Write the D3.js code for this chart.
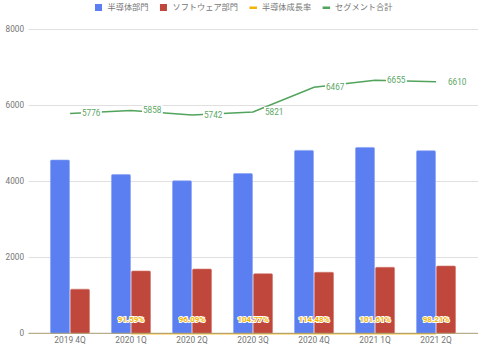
<!DOCTYPE html>
<html><head><meta charset="utf-8">
<script src="https://cdn.jsdelivr.net/npm/d3@7"></script>
<style>body{margin:0;background:#fff}svg{display:block}</style>
</head><body>
<svg id="c" width="480" height="348"></svg>
<script>
const categories = ["2019 4Q","2020 1Q","2020 2Q","2020 3Q","2020 4Q","2021 1Q","2021 2Q"];
const semiconductor = [4556, 4173, 4010, 4201, 4809, 4887, 4800];
const software = [1160, 1638, 1690, 1567, 1604, 1735, 1769];
const growthRate = [null, 91.59, 96.09, 104.77, 114.48, 101.61, 98.21];
const segmentTotal = [5776, 5858, 5742, 5821, 6467, 6655, 6610];
const yTicks = [0, 2000, 4000, 6000, 8000];
const legendLabels = ["半導体部門","ソフトウェア部門","半導体成長率","セグメント合計"];
const colors = ["#5b7ff0","#c0473b","#f4b400","#52a35c"];

const svg = d3.select("#c");
const font = "Roboto, 'Noto Sans CJK JP', sans-serif";
const L = 28.5, R = 478, T = 29, B = 333.3;

const y = d3.scaleLinear().domain([0, 8000]).range([B, T]);
const x = d3.scaleBand().domain(categories).range([28.5, 477.5]).paddingInner(0.36).paddingOuter(0.36);
const xs = d3.scaleBand().domain([0,1]).range([0, x.bandwidth()]).paddingInner(0.05);

// gridlines
svg.append("g").selectAll("line").data(yTicks.filter(d=>d>0)).join("line")
  .attr("x1", L).attr("x2", R).attr("y1", d=>Math.round(y(d))+0.5).attr("y2", d=>Math.round(y(d))+0.5)
  .attr("stroke", "#e0e0e0").attr("stroke-width", 1);

// y axis labels
const ya = svg.append("g").attr("transform", `translate(24,0)`)
  .call(d3.axisLeft(y).tickValues(yTicks).tickSize(0).tickPadding(0).tickFormat(d3.format("d")));
ya.select(".domain").remove();
ya.selectAll("text").attr("font-family", font).attr("font-size", 8.2).attr("fill", "#757575");

// x axis labels
const xa = svg.append("g").attr("transform", `translate(0,${B})`)
  .call(d3.axisBottom(x).tickSize(0).tickPadding(4));
xa.select(".domain").remove();
xa.selectAll("text").attr("font-family", font).attr("font-size", 8.4).attr("fill", "#757575");

// bars
const groups = svg.append("g").selectAll("g").data(categories).join("g")
  .attr("transform", d=>`translate(${x(d)},0)`);
groups.append("rect")
  .attr("x", xs(0)).attr("width", xs.bandwidth())
  .attr("y", (d,i)=>y(semiconductor[i])).attr("height", (d,i)=>B - y(semiconductor[i]))
  .attr("fill", colors[0]).attr("stroke", "#8aa3f5").attr("stroke-width", 0.6).attr("rx", 1.2);
groups.append("rect")
  .attr("x", xs(1)).attr("width", xs.bandwidth())
  .attr("y", (d,i)=>y(software[i])).attr("height", (d,i)=>B - y(software[i]))
  .attr("fill", colors[1]).attr("stroke", "#d27a70").attr("stroke-width", 0.6).attr("rx", 1.2);

const cx = d => x(d) + x.bandwidth()/2;

// growth rate line (plotted as ratio on the same axis)
const growthPts = categories.map((c,i)=>({c, v: growthRate[i]})).filter(p=>p.v!=null);
svg.append("path").datum(growthPts)
  .attr("d", d3.line().x(p=>cx(p.c)).y(p=>y(p.v/100)+0.5))
  .attr("fill","none").attr("stroke", colors[2]).attr("stroke-width", 1.3).attr("opacity", 0.8);

// baseline
svg.append("line").attr("x1", L).attr("x2", R).attr("y1", B).attr("y2", B)
  .attr("stroke", "#a89a70").attr("stroke-width", 1);

// growth labels
svg.append("g").selectAll("text").data(growthPts).join("text")
  .attr("x", p=>cx(p.c)).attr("y", 319).attr("dy", "0.35em")
  .attr("text-anchor","middle").attr("font-family", font).attr("font-size", 8).attr("font-weight", "bold")
  .attr("fill", colors[2]).attr("stroke", "#fff").attr("stroke-width", 2).attr("paint-order","stroke")
  .text(p=>p.v.toFixed(2)+"%");

// segment total line
const segPts = categories.map((c,i)=>({c, v: segmentTotal[i]}));
svg.append("path").datum(segPts)
  .attr("d", d3.line().x(p=>cx(p.c)).y(p=>y(p.v)))
  .attr("fill","none").attr("stroke", colors[3]).attr("stroke-width", 1.5);

const segLab = svg.append("g").selectAll("g").data(segPts).join("g");
segLab.append("text")
  .attr("x", p=>cx(p.c)+12).attr("y", p=>y(p.v)).attr("dy","0.35em")
  .attr("font-family", font).attr("font-size", 8.2).attr("fill", "#5ba766")
  .text(p=>p.v);
segLab.each(function(){
  const t = d3.select(this).select("text");
  const bb = t.node().getBBox();
  d3.select(this).insert("rect","text").attr("x", bb.x-1).attr("y", bb.y).attr("width", bb.width+2).attr("height", bb.height).attr("fill","#fff");
});

// legend
const lg = svg.append("g");
let lx = 95;
legendLabels.forEach((lab,i)=>{
  if (i < 2) {
    lg.append("rect").attr("x", lx).attr("y", 4).attr("width", 7).attr("height", 7).attr("fill", colors[i]);
  } else {
    lg.append("rect").attr("x", lx).attr("y", 6.5).attr("width", 7.5).attr("height", 2.5).attr("fill", colors[i]);
  }
  const t = lg.append("text").attr("x", lx+12.5).attr("y", 7.5).attr("dy","0.35em")
    .attr("font-family", "'Noto Sans CJK JP', sans-serif").attr("font-size", 8.2).attr("fill", "#757575").text(lab);
  lx += 12.5 + t.node().getComputedTextLength() + 11.5;
});
</script>
</body></html>
